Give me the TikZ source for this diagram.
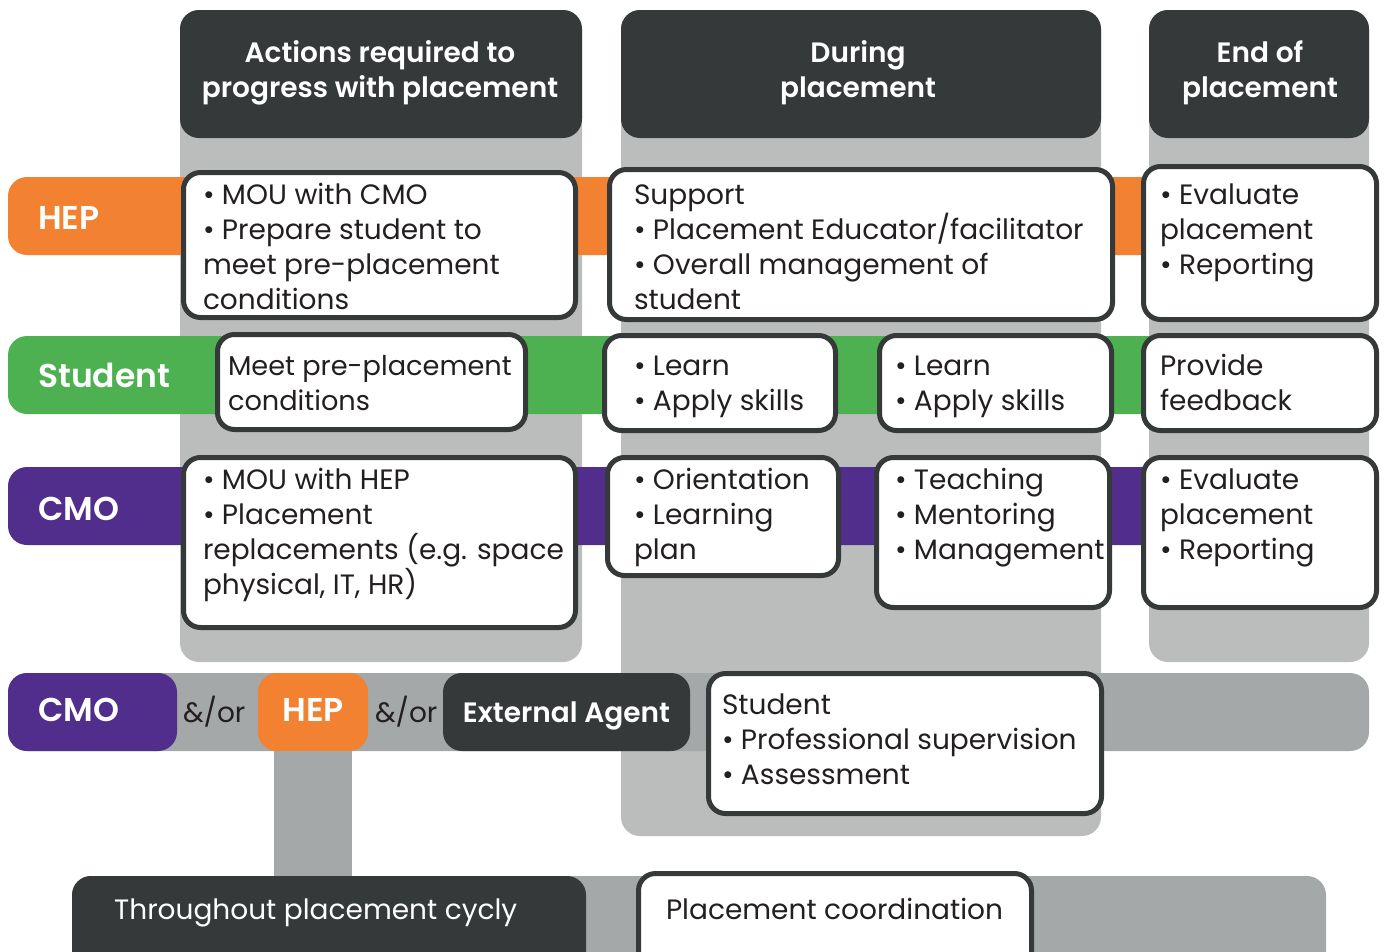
\documentclass[tikz,border=0pt]{standalone}
\usepackage{fontspec}
\setmainfont{Poppins}[BoldFont={Poppins SemiBold}]
\usetikzlibrary{calc}
\AtBeginDocument{\lineskiplimit=-30pt\relax}
\definecolor{darkc}{HTML}{36393A}
\definecolor{colgray}{HTML}{BBBDBC}
\definecolor{midgray}{HTML}{A5A8A9}
\definecolor{hepc}{HTML}{F28132}
\definecolor{stuc}{HTML}{4DB151}
\definecolor{cmoc}{HTML}{522E8C}
\definecolor{txtc}{HTML}{231F20}
\newcommand\wb[5]{\node[wbox, minimum width={#4-#2-5}, minimum height={#5-#3-5}] (#1) at ({(#2+#4)/2},{(#3+#5)/2}) {};}
\newcommand\rb[6]{\node[rbox, fill=#6, minimum width={#4-#2}, minimum height={#5-#3}] (#1) at ({(#2+#4)/2},{(#3+#5)/2}) {};}
% text block: first baseline at (#2,#3)
\newcommand\bt[4]{\node[txt, anchor=north west] (#1) at (#2,{#3-24.5}) {\strut#4};}
\begin{document}
\begin{tikzpicture}[x=1pt,y=-1pt,
  wbox/.style={draw=darkc, line width=5pt, fill=white, rounded corners=17pt, inner sep=0pt, outer sep=0pt},
  rbox/.style={rounded corners=19pt, inner sep=0pt, outer sep=0pt},
  txt/.style={inner sep=0pt, outer sep=0pt, align=left, text=txtc, font=\fontsize{28}{35}\selectfont},
  headtxt/.style={inner sep=0pt, align=center, text=white, font=\fontsize{28}{35}\selectfont\bfseries},
  lbl/.style={inner sep=0pt, text=white, font=\fontsize{33}{40}\selectfont\bfseries},
  conn/.style={draw=midgray, line width=78pt}]
\useasboundingbox (0,0) rectangle (1386,951);
\clip (0,0) rectangle (1386,951);
% column backgrounds
\rb{col1}{180}{10}{582}{662}{colgray}
\rb{col2}{621}{10}{1101}{836}{colgray}
\rb{col3}{1149}{10}{1369}{662}{colgray}
% headers
\rb{h1}{180}{10}{582}{138}{darkc}
\rb{h2}{621}{10}{1101}{138}{darkc}
\rb{h3}{1149}{10}{1369}{138}{darkc}
\node[headtxt, anchor=north] (h1t) at (380,{62-24.5}) {\strut Actions required to\\progress with placement};
\node[headtxt, anchor=north] (h2t) at (858,{62-24.5}) {\strut During\\placement};
\node[headtxt, anchor=north] (h3t) at (1260,{62-24.5}) {\strut End of\\placement};
% row bands
\rb{hepband}{8}{177}{1369}{255}{hepc}
\rb{stuband}{8}{336}{1369}{414}{stuc}
\rb{cmoband}{8}{467}{1369}{545}{cmoc}
\node[lbl, anchor=base west] (heplbl) at (38,229) {HEP};
\node[lbl, anchor=base west] (stulbl) at (38,387) {Student};
\node[lbl, anchor=base west] (cmolbl) at (38,520) {CMO};
% bottom rows
\rb{aband}{8}{673}{1369}{751}{midgray}
\rb{bband}{72}{876}{1326}{1000}{midgray}
\rb{cmo2}{8}{673}{177}{751}{cmoc}
\rb{hep2}{258}{673}{368}{751}{hepc}
\rb{ext}{443}{673}{690}{751}{darkc}
\rb{thr}{72}{876}{586}{1000}{darkc}
\draw[conn] (hep2.south) -- (hep2.south |- thr.north);
\node[lbl, anchor=base west] (cmo2t) at (38,721) {CMO};
\node[lbl, anchor=base] (hep2t) at (hep2.center |- 0,721) {HEP};
\node[txt, anchor=base west] (and1) at (183,722) {\&/or};
\node[txt, anchor=base west] (and2) at (375,722) {\&/or};
\node[inner sep=0pt, text=white, font=\fontsize{28}{35}\selectfont\bfseries, anchor=base] (extt) at (ext.center |- 0,722) {External Agent};
\node[inner sep=0pt, text=white, font=\fontsize{28}{35}\selectfont, anchor=base west] (thrt) at (114,919) {Throughout placement cycly};
% white boxes
\wb{b11}{181}{170}{578}{320}
\wb{b12}{607}{167}{1115}{322}
\wb{b13}{1141}{164}{1379}{322}
\wb{b21}{215}{332}{528}{432}
\wb{b22}{602}{333}{838}{433}
\wb{b23}{877}{333}{1114}{433}
\wb{b24}{1141}{333}{1379}{433}
\wb{b31}{181}{455}{578}{630}
\wb{b32}{605}{455}{841}{578}
\wb{b33}{874}{455}{1112}{610}
\wb{b34}{1141}{455}{1379}{610}
\wb{b41}{706}{671}{1104}{816}
\wb{b51}{636}{871}{1034}{1000}
% texts
\bt{t11}{203}{204}{• MOU with CMO\\• Prepare student to\\meet pre-placement\\conditions}
\bt{t12}{634}{204}{Support\\• Placement Educator/facilitator\\• Overall management of\\student}
\bt{t13}{1160}{204}{• Evaluate\\placement\\• Reporting}
\node[txt, font=\fontsize{27.2}{35}\selectfont, anchor=north west] (t21) at (228,{375-24.5}) {\strut Meet pre-placement\\conditions};
\bt{t22}{634}{375}{• Learn\\• Apply skills}
\bt{t23}{895}{375}{• Learn\\• Apply skills}
\bt{t24}{1160}{375}{Provide\\feedback}
\bt{t31}{203}{489}{• MOU with HEP\\• Placement\\replacements (e.g. space\\physical, IT, HR)}
\bt{t32}{634}{489}{• Orientation\\• Learning\\plan}
\bt{t33}{895}{489}{• Teaching\\• Mentoring\\• Management}
\bt{t34}{1160}{489}{• Evaluate\\placement\\• Reporting}
\bt{t41}{722}{714}{Student\\• Professional supervision\\• Assessment}
\bt{t51}{666}{919}{Placement coordination}
\end{tikzpicture}
\end{document}
